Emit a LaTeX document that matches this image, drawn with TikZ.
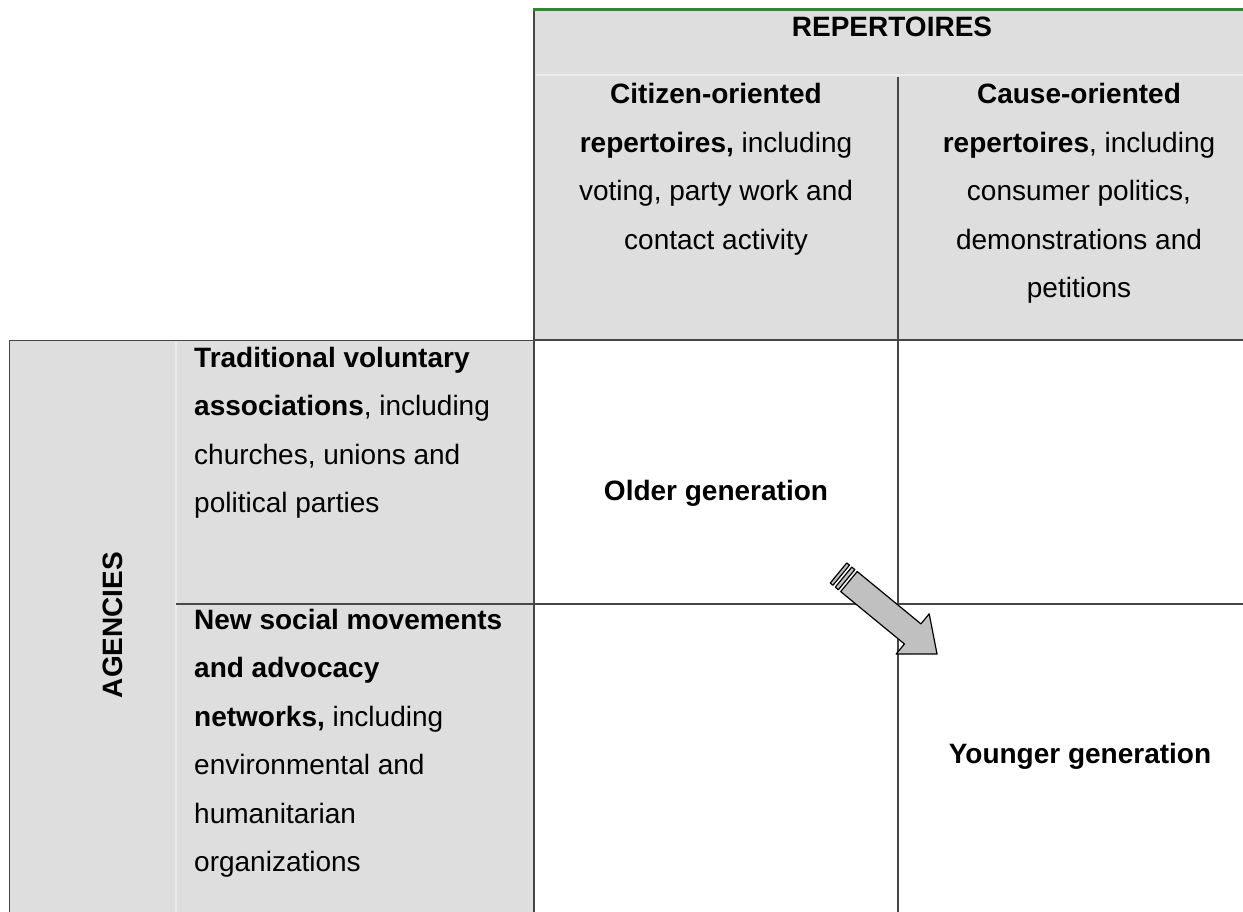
\documentclass[tikz,border=0pt]{standalone}
\usepackage{fontspec}
\setmainfont{Liberation Sans}
\definecolor{cellgrey}{RGB}{222,222,222}
\definecolor{faintline}{RGB}{236,236,236}
\definecolor{ruleline}{RGB}{70,70,70}
\definecolor{topgreen}{RGB}{40,140,40}
\definecolor{arrowgrey}{RGB}{192,192,192}
\newcommand{\cellC}[2]{\parbox[t]{#1pt}{\centering\fontsize{28}{48.5}\selectfont #2}}
\newcommand{\cellL}[2]{\parbox[t]{#1pt}{\raggedright\fontsize{28}{48.5}\selectfont #2}}
\tikzset{
  border/.style={draw=ruleline, line width=1.2pt},
  faint/.style={draw=faintline, line width=1.2pt},
  txt/.style={anchor=base, inner sep=0pt},
  big/.style={font=\fontsize{28}{34}\selectfont\bfseries, inner sep=0pt},
  arrowpart/.style={fill=arrowgrey, draw=black, line width=1.2pt, line join=round}
}
\begin{document}
\begin{tikzpicture}[x=1pt, y=-1pt]
\useasboundingbox (0,0) rectangle (1243,912);
% fills
\fill[cellgrey] (534,10) rectangle (1243,340);
\fill[cellgrey] (9.5,340.5) rectangle (535,912);
% faint table lines
\draw[faint] (536,75) -- (1243,75);
\draw[faint] (176,342) -- (176,912);
% rules
\draw[border] (534,912) -- (534,10);
\draw[border] (534,340) -- (1243,340);
\draw[border] (9.5,912) -- (9.5,340.5) -- (534,340.5);
\draw[border] (898,77) -- (898,912);
\draw[border] (176,604) -- (1243,604);
\draw[draw=topgreen, line width=2.6pt] (533,9.5) -- (1243,9.5);
% header texts
\node[big, anchor=base] (rep) at (892,37) {REPERTOIRES};
\node[txt] (citizen) at (716,104) {\cellC{350}{\textbf{Citizen-oriented}\\\textbf{repertoires,} including\\voting, party work and\\contact activity}};
\node[txt] (cause) at (1079,104) {\cellC{330}{\textbf{Cause-oriented}\\\textbf{repertoires}, including\\consumer politics,\\demonstrations and\\petitions}};
% left texts
\node[big, rotate=90] (agencies) at (113,625) {AGENCIES};
\node[txt, anchor=base west] (trad) at (194,367) {\cellL{335}{\textbf{Traditional voluntary}\\\textbf{associations}, including\\churches, unions and\\political parties}};
\node[txt, anchor=base west] (newsoc) at (194,629) {\cellL{335}{\textbf{New social movements}\\\textbf{and advocacy}\\\textbf{networks,} including\\environmental and\\humanitarian\\organizations}};
% generations
\node[big, anchor=base] (older) at (716,500) {Older generation};
\node[big, anchor=base] (younger) at (1080,763) {Younger generation};
% striped arrow
\begin{scope}[shift={(838.5,573)}, rotate=-39.4]
  \draw[arrowpart] (0,-13) -- (3.5,-13) -- (3.5,13) -- (0,13) -- cycle;
  \draw[arrowpart] (6.5,-13) -- (10.5,-13) -- (10.5,13) -- (6.5,13) -- cycle;
  \draw[arrowpart] (13.5,-13) -- (96,-13) -- (96,-26) -- (127.5,0) -- (96,26) -- (96,13) -- (13.5,13) -- cycle;
\end{scope}
\end{tikzpicture}
\end{document}
